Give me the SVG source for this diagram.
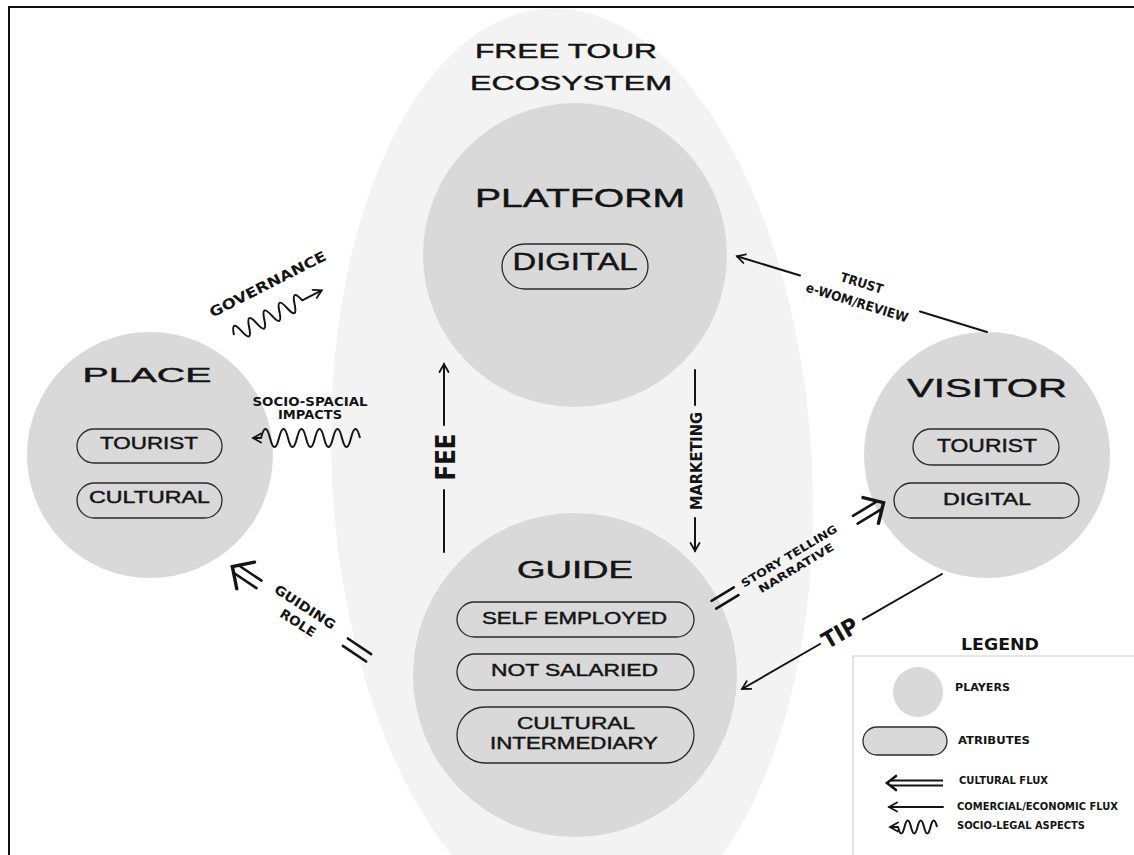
<svg xmlns="http://www.w3.org/2000/svg" width="1134" height="855" viewBox="0 0 1134 855">
<defs>
<style>
.t{font-family:"Liberation Sans",Arial,sans-serif;fill:#141414;stroke:#141414;stroke-width:0.45;text-anchor:middle}
.b{font-family:"DejaVu Sans","Liberation Sans",sans-serif;font-weight:bold;fill:#141414;text-anchor:middle}
.bl{font-family:"DejaVu Sans","Liberation Sans",sans-serif;font-weight:bold;fill:#141414;text-anchor:start}
.player{fill:#d9d9d9}
.pill{fill:none;stroke:#2a2a2a;stroke-width:1.3}
.ln{fill:none;stroke:#141414;stroke-width:2;stroke-linecap:round}
.wv{fill:none;stroke:#141414;stroke-width:2;stroke-linejoin:round}
.dbl{fill:none;stroke:#141414;stroke-width:2.6;stroke-linecap:round}
.chev{fill:none;stroke:#141414;stroke-width:3.4;stroke-linecap:round;stroke-linejoin:miter}
</style>
<marker id="arr" viewBox="0 0 12 12" refX="10" refY="6" markerWidth="12" markerHeight="12" markerUnits="userSpaceOnUse" orient="auto">
<path d="M2,1.5 L10,6 L2,10.5" fill="none" stroke="#141414" stroke-width="1.8" stroke-linecap="round"/>
</marker>
</defs>
<rect width="1134" height="855" fill="#ffffff"/>

<g id="ecosystem">
<ellipse cx="572" cy="472" rx="240" ry="464" transform="rotate(-3 572 472)" fill="#f3f3f3"/>
<text class="t" x="566" y="58" font-size="21" textLength="182" lengthAdjust="spacingAndGlyphs">FREE TOUR</text>
<text class="t" x="571" y="90" font-size="21" textLength="202" lengthAdjust="spacingAndGlyphs">ECOSYSTEM</text>
</g>
<path d="M9,855 V7 H1134" fill="none" stroke="#111" stroke-width="2"/>

<g id="platform">
<circle class="player" cx="575" cy="255" r="152"/>
<text class="t" x="580" y="207" font-size="26" textLength="210" lengthAdjust="spacingAndGlyphs">PLATFORM</text>
<rect class="pill" x="502" y="244" width="146" height="45" rx="22.5"/>
<text class="t" x="575" y="270" font-size="23" textLength="125" lengthAdjust="spacingAndGlyphs">DIGITAL</text>
</g>

<g id="place">
<circle class="player" cx="150" cy="455" r="123"/>
<text class="t" x="147" y="382" font-size="21" textLength="129" lengthAdjust="spacingAndGlyphs">PLACE</text>
<rect class="pill" x="77" y="429" width="145" height="34" rx="17"/>
<text class="t" x="149" y="449" font-size="17" textLength="98" lengthAdjust="spacingAndGlyphs">TOURIST</text>
<rect class="pill" x="77" y="483" width="145" height="35" rx="17.5"/>
<text class="t" x="149.5" y="503" font-size="17" textLength="121" lengthAdjust="spacingAndGlyphs">CULTURAL</text>
</g>

<g id="visitor">
<circle class="player" cx="987" cy="455" r="123"/>
<text class="t" x="987" y="397" font-size="26" textLength="160" lengthAdjust="spacingAndGlyphs">VISITOR</text>
<rect class="pill" x="913" y="429" width="146" height="36" rx="18"/>
<text class="t" x="987" y="452" font-size="18.5" textLength="100" lengthAdjust="spacingAndGlyphs">TOURIST</text>
<rect class="pill" x="894" y="483" width="185" height="35" rx="17.5"/>
<text class="t" x="987" y="505" font-size="16.5" textLength="88" lengthAdjust="spacingAndGlyphs">DIGITAL</text>
</g>

<g id="guide">
<circle class="player" cx="575" cy="675" r="162"/>
<text class="t" x="575" y="578" font-size="23" textLength="116" lengthAdjust="spacingAndGlyphs">GUIDE</text>
<rect class="pill" x="457" y="602" width="237" height="35" rx="17.5"/>
<text class="t" x="574.5" y="624" font-size="17" textLength="185" lengthAdjust="spacingAndGlyphs">SELF EMPLOYED</text>
<rect class="pill" x="457" y="654" width="237" height="36" rx="18"/>
<text class="t" x="574.5" y="676" font-size="17" textLength="167" lengthAdjust="spacingAndGlyphs">NOT SALARIED</text>
<rect class="pill" x="457" y="707" width="237" height="56" rx="28"/>
<text class="t" x="576" y="729" font-size="17" textLength="118" lengthAdjust="spacingAndGlyphs">CULTURAL</text>
<text class="t" x="574" y="749" font-size="17" textLength="168" lengthAdjust="spacingAndGlyphs">INTERMEDIARY</text>
</g>

<g id="connectors">
<g transform="translate(234,335) rotate(-27)">
<path class="wv" d="M0,0 q4.25,-16 8.5,0 t8.5,0 t8.5,0 t8.5,0 t8.5,0 t8.5,0 t8.5,0 t8.5,0 t8.5,0 l22,0" marker-end="url(#arr)"/>
</g>
<text class="b" font-size="14" transform="translate(270,288.5) rotate(-27)" textLength="129" lengthAdjust="spacingAndGlyphs">GOVERNANCE</text>

<path class="wv" d="M360,438 q-4.5,-18 -9,0 t-9,0 t-9,0 t-9,0 t-9,0 t-9,0 t-9,0 t-9,0 t-9,0 t-9,0 t-9,0 l-8,0" marker-end="url(#arr)"/>
<text class="b" x="310" y="406" font-size="11.5" textLength="115" lengthAdjust="spacingAndGlyphs">SOCIO-SPACIAL</text>
<text class="b" x="310" y="419" font-size="11.5" textLength="64" lengthAdjust="spacingAndGlyphs">IMPACTS</text>

<path class="ln" d="M987,332 L920,311.5"/>
<path class="ln" d="M800,275.5 L737,256.3" marker-end="url(#arr)"/>
<g transform="translate(860,293) rotate(17)">
<text class="b" x="-1" y="-5.5" font-size="13" textLength="44" lengthAdjust="spacingAndGlyphs">TRUST</text>
<text class="b" x="0" y="14.5" font-size="13" textLength="106" lengthAdjust="spacingAndGlyphs">e-WOM/REVIEW</text>
</g>

<path class="ln" d="M444,552 V490"/>
<path class="ln" d="M444,425 V364" marker-end="url(#arr)"/>
<text class="b" font-size="26" transform="translate(455,457) rotate(-90)" textLength="47" lengthAdjust="spacingAndGlyphs">FEE</text>

<path class="ln" d="M695,370 V405"/>
<path class="ln" d="M695,518 V551" marker-end="url(#arr)"/>
<text class="b" font-size="15" transform="translate(702,461) rotate(-90)" textLength="98" lengthAdjust="spacingAndGlyphs">MARKETING</text>

<g transform="translate(725,598) rotate(-31)">
<path class="dbl" d="M-13,-4.5 H13 M-13,4.5 H13"/>
<path class="dbl" d="M152,-4.5 H180 M152,4.5 H180"/>
<path class="chev" d="M170,-15 L185,0 L170,15"/>
</g>
<g transform="translate(792,562) rotate(-31)">
<text class="b" x="0.5" y="-2.7" font-size="11" textLength="110" lengthAdjust="spacingAndGlyphs">STORY TELLING</text>
<text class="b" x="0.3" y="11.2" font-size="11" textLength="86" lengthAdjust="spacingAndGlyphs">NARRATIVE</text>
</g>

<g transform="translate(357,650) rotate(213.8)">
<path class="dbl" d="M-14,-4.5 H14 M-14,4.5 H14"/>
<path class="dbl" d="M118,-4.5 H146 M118,4.5 H146"/>
<path class="chev" d="M134,-16 L150,0 L134,16" stroke-width="4"/>
</g>
<g transform="translate(302,615) rotate(33)">
<text class="b" x="-1.9" y="-3.8" font-size="13" textLength="70" lengthAdjust="spacingAndGlyphs">GUIDING</text>
<text class="b" x="1" y="13.4" font-size="13" textLength="40" lengthAdjust="spacingAndGlyphs">ROLE</text>
</g>

<path class="ln" d="M942,574 L863,619.4"/>
<path class="ln" d="M820,644 L742,689" marker-end="url(#arr)"/>
<text class="b" font-size="23" transform="translate(840,633) rotate(-30)" y="8" textLength="38" lengthAdjust="spacingAndGlyphs">TIP</text>
</g>

<g id="legend">
<text class="b" x="1000" y="650" font-size="16" textLength="78" lengthAdjust="spacingAndGlyphs">LEGEND</text>
<path d="M853,855 V656 H1134" fill="none" stroke="#cfcfcf" stroke-width="1.2"/>
<circle class="player" cx="918" cy="692" r="25"/>
<text class="bl" x="955" y="691" font-size="10.5" textLength="55" lengthAdjust="spacingAndGlyphs">PLAYERS</text>
<rect x="863" y="727" width="84" height="28" rx="14" fill="#d9d9d9" stroke="#2a2a2a" stroke-width="1.3"/>
<text class="bl" x="958" y="744" font-size="10.5" textLength="72" lengthAdjust="spacingAndGlyphs">ATRIBUTES</text>
<path d="M943,780.5 H891 M943,785.5 H891" fill="none" stroke="#141414" stroke-width="2"/>
<path d="M896,776 L887,783 L896,790" fill="none" stroke="#141414" stroke-width="2.6" stroke-linecap="round"/>
<text class="bl" x="959" y="784" font-size="10" textLength="89" lengthAdjust="spacingAndGlyphs">CULTURAL FLUX</text>
<path class="ln" d="M943,807 H889" marker-end="url(#arr)"/>
<text class="bl" x="957" y="810" font-size="10" textLength="161" lengthAdjust="spacingAndGlyphs">COMERCIAL/ECONOMIC FLUX</text>
<path class="wv" stroke-width="1.6" d="M937,827 q-3.25,-13 -6.5,0 t-6.5,0 t-6.5,0 t-6.5,0 t-6.5,0 t-6.5,0 l-8,0" marker-end="url(#arr)"/>
<text class="bl" x="957" y="829" font-size="10" textLength="128" lengthAdjust="spacingAndGlyphs">SOCIO-LEGAL ASPECTS</text>
</g>
</svg>
